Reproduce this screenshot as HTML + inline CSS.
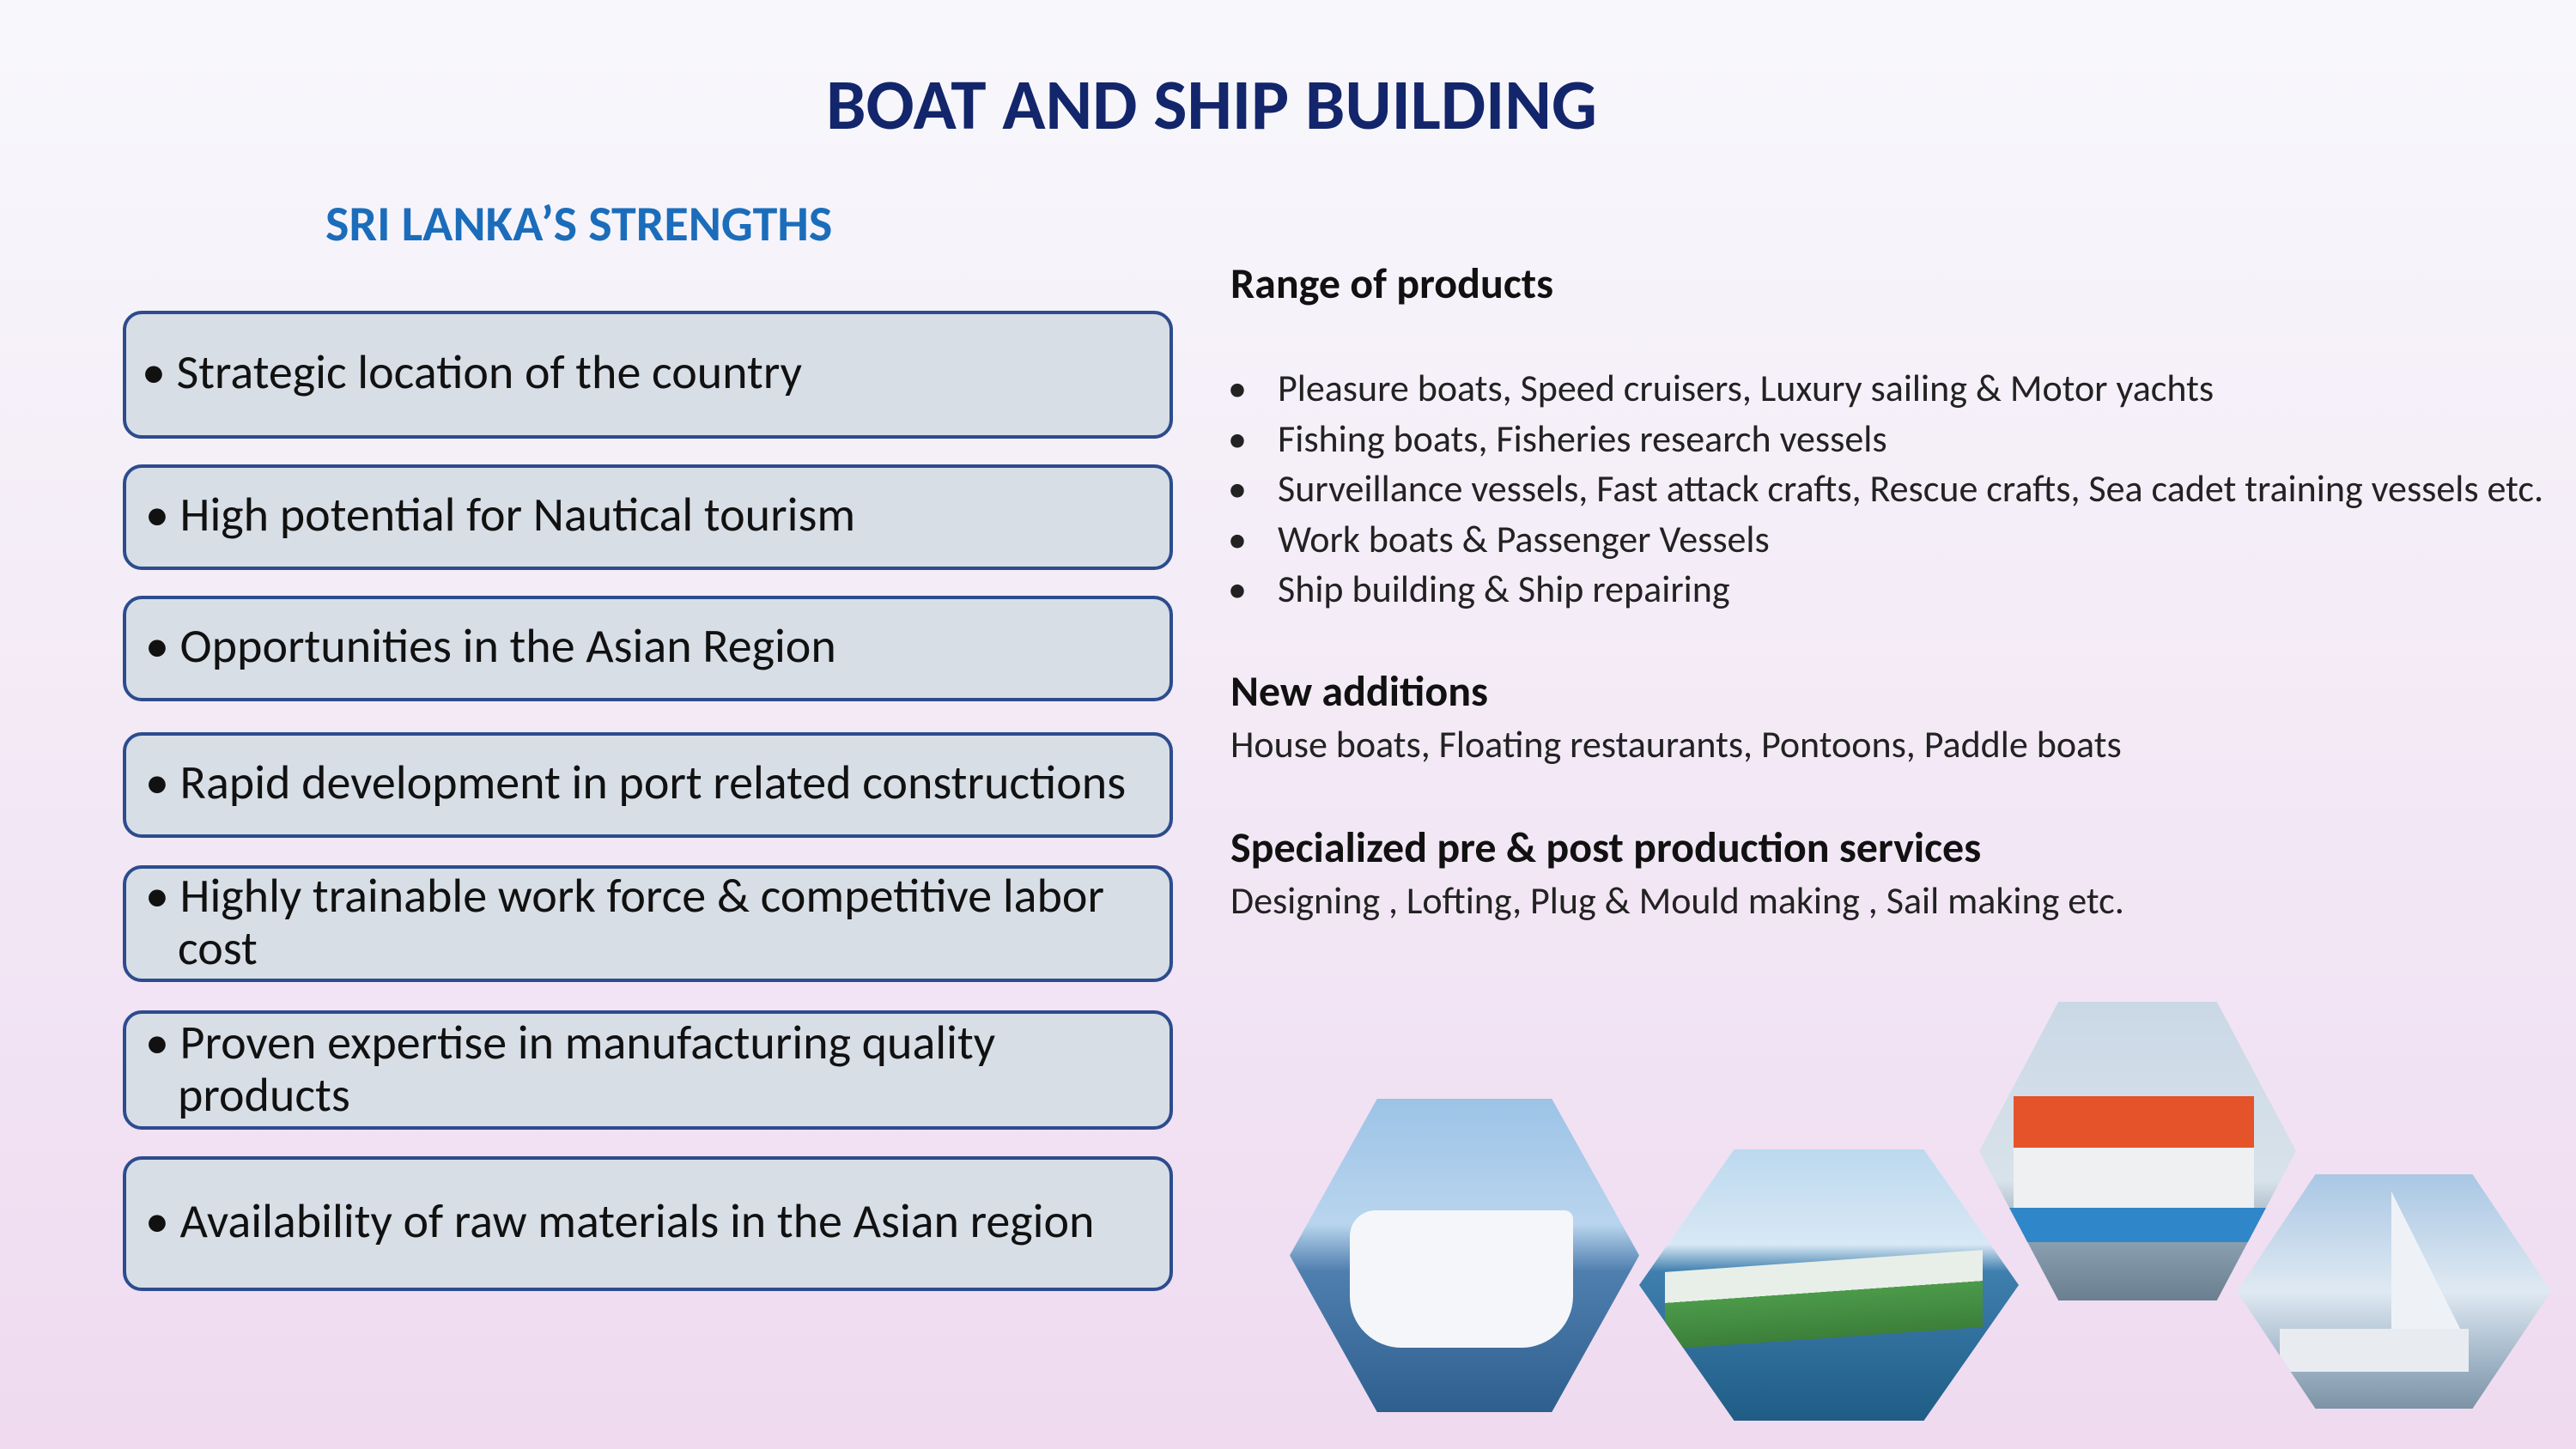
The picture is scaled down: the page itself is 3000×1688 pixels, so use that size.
<!DOCTYPE html>
<html><head><meta charset="utf-8"><style>
*{margin:0;padding:0;box-sizing:border-box}
body{width:3000px;height:1688px;overflow:hidden;position:relative;font-family:Calibri,"Liberation Sans",sans-serif;background:linear-gradient(180deg,#f8f8fc 0%,#f3eaf6 50%,#efdaf0 100%)}
.a{position:absolute;white-space:nowrap}
.title{left:962px;top:72px;font-weight:bold;font-size:83px;color:#13266b}
.sub{left:379px;top:225px;font-weight:bold;font-size:58px;color:#1b6dbb}
.box{position:absolute;left:143px;width:1223px;background:#d7dee6;border:4px solid #2d4c8e;border-radius:22px}
.bt{position:absolute;left:22px;font-size:56px;color:#111;line-height:61px;white-space:nowrap}
.h{font-weight:bold;font-size:50px;color:#111}
.t{font-size:44px;color:#222}
.hex{position:absolute;clip-path:polygon(25% 0,75% 0,100% 50%,75% 100%,25% 100%,0 50%)}
</style></head><body>
<div class="a title">BOAT AND SHIP BUILDING</div>
<div class="a sub">SRI LANKA’S STRENGTHS</div>

<div class="box" style="top:362px;height:149px"><div class="bt" style="top:38px;left:18px">• Strategic location of the country</div></div>
<div class="box" style="top:541px;height:123px"><div class="bt" style="top:25px">• High potential for Nautical tourism</div></div>
<div class="box" style="top:694px;height:123px"><div class="bt" style="top:25px">• Opportunities in the Asian Region</div></div>
<div class="box" style="top:853px;height:123px"><div class="bt" style="top:25px">• Rapid development in port related constructions</div></div>
<div class="box" style="top:1008px;height:136px"><div class="bt" style="top:2px">• Highly trainable work force &amp; competitive labor<br>&nbsp;&nbsp;&nbsp;cost</div></div>
<div class="box" style="top:1177px;height:139px"><div class="bt" style="top:4px">• Proven expertise in manufacturing quality<br>&nbsp;&nbsp;&nbsp;products</div></div>
<div class="box" style="top:1347px;height:157px"><div class="bt" style="top:42px">• Availability of raw materials in the Asian region</div></div>

<div class="a h" style="left:1433px;top:300px">Range of products</div>
<div class="a t" style="left:1430px;top:425px">•</div><div class="a t" style="left:1488px;top:425px">Pleasure boats, Speed cruisers, Luxury sailing &amp; Motor yachts</div>
<div class="a t" style="left:1430px;top:484px">•</div><div class="a t" style="left:1488px;top:484px">Fishing boats, Fisheries research vessels</div>
<div class="a t" style="left:1430px;top:542px">•</div><div class="a t" style="left:1488px;top:542px">Surveillance vessels, Fast attack crafts, Rescue crafts, Sea cadet training vessels etc.</div>
<div class="a t" style="left:1430px;top:601px">•</div><div class="a t" style="left:1488px;top:601px">Work boats &amp; Passenger Vessels</div>
<div class="a t" style="left:1430px;top:659px">•</div><div class="a t" style="left:1488px;top:659px">Ship building &amp; Ship repairing</div>

<div class="a h" style="left:1433px;top:775px">New additions</div>
<div class="a t" style="left:1433px;top:840px">House boats, Floating restaurants, Pontoons, Paddle boats</div>
<div class="a h" style="left:1433px;top:957px">Specialized pre &amp; post production services</div>
<div class="a t" style="left:1433px;top:1022px">Designing , Lofting, Plug &amp; Mould making , Sail making etc.</div>

<div class="hex" style="left:1502px;top:1280px;width:407px;height:365px;background:linear-gradient(180deg,#9cc3e6 0%,#b9d5ee 40%,#4f7fae 55%,#2e5f8e 100%)"><div style="position:absolute;left:70px;top:130px;width:260px;height:160px;background:#f4f6fa;border-radius:30px 10px 60px 60px"></div></div>
<div class="hex" style="left:1909px;top:1339px;width:442px;height:316px;background:linear-gradient(180deg,#bcd9ef 0%,#d8e8f4 35%,#3f7fae 45%,#1f5d86 100%)"><div style="position:absolute;left:30px;top:130px;width:370px;height:90px;background:linear-gradient(180deg,#e8efe8 0,#e8efe8 40%,#4c9a4a 40%,#3c7f3a 100%);transform:skewY(-4deg)"></div></div>
<div class="hex" style="left:2305px;top:1167px;width:369px;height:348px;background:linear-gradient(180deg,#cad8e6 0%,#d8e2ea 60%,#8aa0b0 80%,#6a8090 100%)"><div style="position:absolute;left:40px;top:110px;width:280px;height:60px;background:#e5532a"></div><div style="position:absolute;left:40px;top:170px;width:280px;height:70px;background:#eef0f2"></div><div style="position:absolute;left:20px;top:240px;width:320px;height:40px;background:#2f86c9"></div></div>
<div class="hex" style="left:2605px;top:1368px;width:366px;height:273px;background:linear-gradient(180deg,#a9c7e4 0%,#dfe9f2 50%,#9fb4c6 80%,#7d93a6 100%)"><div style="position:absolute;left:50px;top:180px;width:220px;height:50px;background:#e8ecf0"></div><div style="position:absolute;left:180px;top:20px;width:0;height:0;border-left:80px solid #eef2f6;border-top:160px solid transparent"></div></div>
</body></html>
